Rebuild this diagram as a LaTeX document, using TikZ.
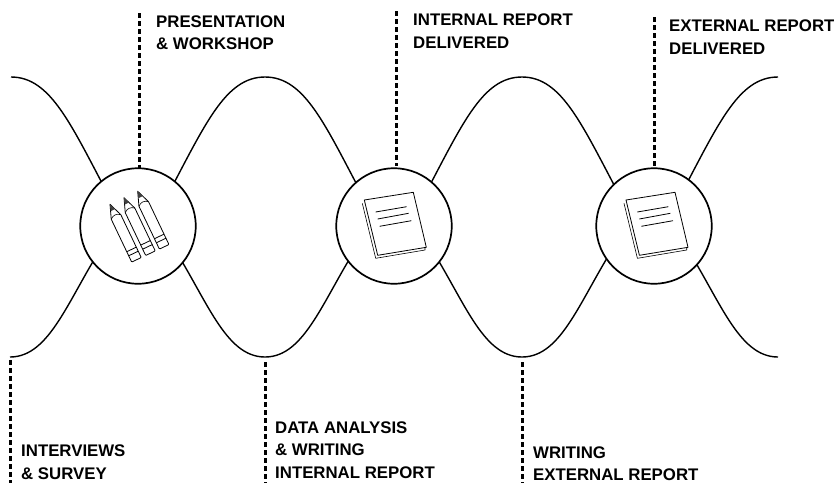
\documentclass[tikz,border=0pt]{standalone}
\usepackage{fontspec}
\setmainfont{Liberation Sans}
\tikzset{
  wave/.style={line width=1.4pt,black},
  hub/.style={circle,draw=black,line width=1.7pt,fill=white,minimum size=115.5pt,inner sep=0pt},
  marker/.style={line width=3pt,black,dash pattern=on 4.7pt off 3.3pt},
  lab/.style={anchor=north west,align=left,inner sep=0pt,font=\bfseries\fontsize{16.8}{22.4}\selectfont},
  icon/.style={line width=0.8pt,black,line join=round},
  iconthin/.style={line width=0.6pt,black,line join=round},
}
\newcommand{\bookicon}[2]{%
  \begin{scope}[shift={(#1,#2)}]
    \draw[iconthin] (-2,3.3) -- (11.4,58.3) -- (60.7,50) -- (60.7,47.3);
    \draw[icon] (0,0) -- (49,-7.7) -- (62,47.3) -- (13.4,55.3) -- cycle;
    \draw[icon] (11.3,12) -- (42.3,6.7) (13.3,19) -- (44.3,13.3) (15.3,26.3) -- (47,20.7);
  \end{scope}}
\newcommand{\pencilicon}[2]{%
  \begin{scope}[shift={(#1,#2)},rotate=25.5]
    \draw[icon,rounded corners=0.8pt] (-5.3,14) -- (-5.3,61.5) -- (5.3,61.5) -- (5.3,14);
    \draw[icon] (-5.3,14) -- (0,0) -- (5.3,14);
    \draw[iconthin] (-5.3,14) .. controls (-2,11) and (2,11) .. (5.3,14);
    \fill[black!75] (0,0) -- (-2.4,6.5) -- (2.4,6.5) -- cycle;
    \draw[icon] (-5.3,50) -- (5.3,50) (-5.3,54.5) -- (5.3,54.5);
  \end{scope}}
% one wave hump, from a crest or trough to a point hidden under a hub
\newcommand{\crest}[2]{\draw[wave] (#1,77) .. controls ({#1+#2*40},77) and ({#1+#2*60},125) .. ({#1+#2*100},200);}
\newcommand{\trough}[2]{\draw[wave] (#1,357) .. controls ({#1+#2*40},357) and ({#1+#2*58},299) .. ({#1+#2*95},242);}
\begin{document}
\begin{tikzpicture}[x=1pt,y=-1pt]
\useasboundingbox (0,0) rectangle (834,483);
% wave
\crest{11}{1}\crest{265}{-1}\crest{265}{1}\crest{522}{-1}\crest{522}{1}\crest{778}{-1}
\trough{10}{1}\trough{265}{-1}\trough{265}{1}\trough{522}{-1}\trough{522}{1}\trough{778}{-1}
% hubs
\node[hub] (h1) at (138,226) {};
\node[hub] (h2) at (394,226) {};
\node[hub] (h3) at (654,226) {};
% icons
\pencilicon{110}{204.3}
\pencilicon{124}{197.7}
\pencilicon{137.7}{191.3}
\bookicon{364.3}{200}
\bookicon{626}{200}
% markers
\coordinate (t1) at (139,13);
\coordinate (t2) at (396,11);
\coordinate (t3) at (654,17);
\coordinate (b1) at (10,360);
\coordinate (b2) at (265,362);
\coordinate (b3) at (522,362);
\coordinate (e1) at (10,483);
\coordinate (e2) at (265,483);
\coordinate (e3) at (522,483);
\draw[marker] (t1) -- (139,168);
\draw[marker] (t2) -- (396,166);
\draw[marker] (t3) -- (654,168);
\draw[marker] (b1) -- (e1);
\draw[marker] (b2) -- (e2);
\draw[marker] (b3) -- (e3);
% labels
\node[lab] (l1) at (156,15.5) {PRESENTATION\\\& WORKSHOP};
\node[lab] (l2) at (413,14) {INTERNAL REPORT\\DELIVERED};
\node[lab] (l3) at (669,19.7) {EXTERNAL REPORT\\DELIVERED};
\node[lab] (l4) at (21,444.7) {INTERVIEWS\\\& SURVEY};
\node[lab] (l5) at (275,421.5) {DATA ANALYSIS\\\& WRITING\\INTERNAL REPORT};
\node[lab] (l6) at (533,446.5) {WRITING\\EXTERNAL REPORT};
\end{tikzpicture}
\end{document}
